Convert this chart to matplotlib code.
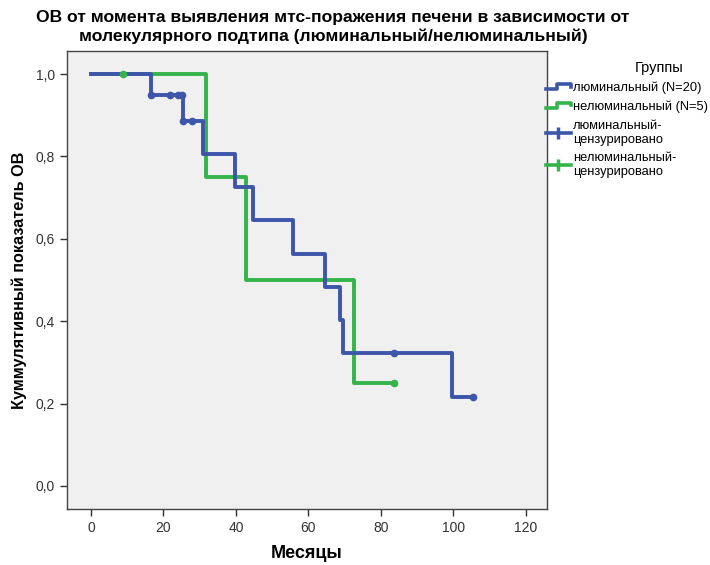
import matplotlib
matplotlib.use("Agg")
import matplotlib.pyplot as plt
from matplotlib.lines import Line2D
from matplotlib.legend_handler import HandlerBase

plt.rcParams['font.family'] = ['Liberation Sans', 'DejaVu Sans']

# данные Каплана-Мейера (месяцы / кумулятивная выживаемость)
lum_t = [0, 16.7, 25.5, 31.0, 39.7, 44.6, 55.8, 64.7, 68.7, 69.4, 99.5, 105.5]
lum_s = [1.0, 0.950, 0.887, 0.806, 0.726, 0.645, 0.564, 0.484, 0.403, 0.322, 0.215, 0.215]
lum_cens_t = [16.7, 21.8, 24.0, 25.0, 25.5, 27.8, 83.6, 105.5]
lum_cens_s = [0.950, 0.950, 0.950, 0.950, 0.887, 0.887, 0.322, 0.215]

nonlum_t = [0, 31.7, 42.7, 72.6, 83.7]
nonlum_s = [1.0, 0.75, 0.50, 0.25, 0.25]
nonlum_cens_t = [8.9, 83.7]
nonlum_cens_s = [1.0, 0.25]

labels = ['люминальный (N=20)', 'нелюминальный (N=5)',
          'люминальный-\nцензурировано', 'нелюминальный-\nцензурировано']
x_ticks = [0, 20, 40, 60, 80, 100, 120]
y_ticks = [0.0, 0.2, 0.4, 0.6, 0.8, 1.0]

blue = '#3d56aa'
green = '#34b44a'


class StepHandler(HandlerBase):
    # значок-ступенька как в SPSS
    def create_artists(self, legend, orig_handle, xd, yd, w, h, fs, trans):
        xs = [-xd, -xd + w * 0.45, -xd + w * 0.45, -xd + w, -xd + w]
        ys = [-yd + h * 0.25, -yd + h * 0.25, -yd + h * 0.8, -yd + h * 0.8, -yd + h * 0.55]
        ln = Line2D(xs, ys, color=orig_handle.get_color(), lw=2.6, transform=trans)
        return [ln]


fig = plt.figure(figsize=(7.1, 5.65), dpi=100)
ax = fig.add_axes([67 / 710, 1 - 509 / 565, 480 / 710, 458 / 565])
ax.set_facecolor('#f0f0f0')

ax.step(lum_t, lum_s, where='post', color=blue, lw=2.8, zorder=3)
ax.step(nonlum_t, nonlum_s, where='post', color=green, lw=2.8, zorder=2)
ax.plot(lum_cens_t, lum_cens_s, ls='none', marker='o', ms=4.5, color=blue, zorder=4)
ax.plot(nonlum_cens_t, nonlum_cens_s, ls='none', marker='o', ms=4.5, color=green, zorder=4)

ax.set_xlim(-6.6, 125.8)
ax.set_ylim(-0.056, 1.056)
ax.set_xticks(x_ticks)
ax.set_xticklabels([str(v) for v in x_ticks])
ax.set_yticks(y_ticks)
ax.set_yticklabels([f"{v:.1f}".replace('.', ',') for v in y_ticks])
ax.tick_params(direction='out', length=5, width=1, colors='#333333', labelsize=10)
for s in ax.spines.values():
    s.set_color('#444444')
    s.set_linewidth(1)

ax.set_xlabel('Месяцы', fontsize=13, fontweight='bold', labelpad=7)
ax.set_ylabel('Куммулятивный показатель ОВ', fontsize=11.7, fontweight='bold', labelpad=6)

fig.text(333 / 710, 1 - 27 / 565,
         'ОВ от момента выявления мтс-поражения печени в зависимости от\n'
         'молекулярного подтипа (люминальный/нелюминальный)',
         ha='center', va='center', fontsize=12.6, fontweight='bold', linespacing=1.28)

fig.text(659 / 710, 1 - 68 / 565, 'Группы', ha='center', va='center', fontsize=10.5)

h1 = Line2D([], [], color=blue, lw=2.6)
h2 = Line2D([], [], color=green, lw=2.6)
h3 = Line2D([], [], color=blue, lw=2.6, marker='|', ms=8, mew=2.5)
h4 = Line2D([], [], color=green, lw=2.6, marker='|', ms=8, mew=2.5)
leg = fig.legend([h1, h2, h3, h4], labels,
                 loc='upper left', bbox_to_anchor=(546 / 710, 1 - 82 / 565),
                 frameon=False, fontsize=9.3,
                 handlelength=1.9, handletextpad=0.2, labelspacing=0.5,
                 borderaxespad=0, borderpad=0,
                 handler_map={h1: StepHandler(), h2: StepHandler()})

fig.savefig('out.png', dpi=100)
